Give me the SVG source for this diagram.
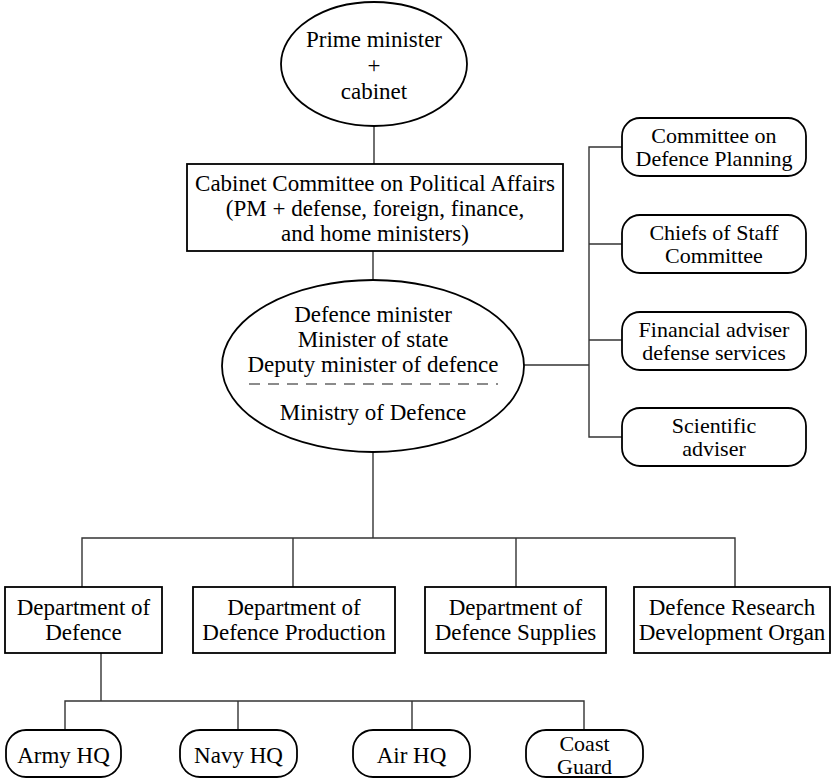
<svg xmlns="http://www.w3.org/2000/svg" width="838" height="780" viewBox="0 0 838 780">
<rect width="838" height="780" fill="#fff"/>
<g id="connectors" fill="none" stroke="#333" stroke-width="1.4">
<line x1="374" y1="127" x2="374" y2="164"/>
<line x1="373" y1="251" x2="373" y2="280"/>
<line x1="524" y1="365" x2="589" y2="365"/>
<polyline points="622,147 589,147 589,437 622,437"/>
<line x1="589" y1="244" x2="622" y2="244"/>
<line x1="589" y1="340" x2="622" y2="340"/>
<line x1="373" y1="452" x2="373" y2="538"/>
<polyline points="82,587 82,538 735,538 735,587"/>
<line x1="293" y1="538" x2="293" y2="587"/>
<line x1="516" y1="538" x2="516" y2="587"/>
<line x1="101" y1="653" x2="101" y2="701"/>
<polyline points="65,730 65,701 584,701 584,730"/>
<line x1="238" y1="701" x2="238" y2="730"/>
<line x1="412" y1="701" x2="412" y2="730"/>
</g>
<g id="pm">
<ellipse fill="#fff" stroke="#000" stroke-width="1.8" cx="374" cy="64" rx="93" ry="62"/>
<text x="374" y="47" font-family="Liberation Serif" font-size="23" text-anchor="middle">Prime minister</text>
<text x="374" y="73" font-family="Liberation Serif" font-size="23" text-anchor="middle">+</text>
<text x="374" y="99" font-family="Liberation Serif" font-size="23" text-anchor="middle">cabinet</text>
</g>
<g id="ccpa">
<rect fill="#fff" stroke="#000" stroke-width="1.8" x="187" y="164" width="376" height="87"/>
<text x="375" y="191" font-family="Liberation Serif" font-size="23" text-anchor="middle">Cabinet Committee on Political Affairs</text>
<text x="375" y="216" font-family="Liberation Serif" font-size="23" text-anchor="middle">(PM + defense, foreign, finance,</text>
<text x="375" y="241" font-family="Liberation Serif" font-size="23" text-anchor="middle">and home ministers)</text>
</g>
<g id="mod">
<ellipse fill="#fff" stroke="#000" stroke-width="1.8" cx="373" cy="366" rx="151" ry="86"/>
<text x="373" y="322" font-family="Liberation Serif" font-size="23" text-anchor="middle">Defence minister</text>
<text x="373" y="347" font-family="Liberation Serif" font-size="23" text-anchor="middle">Minister of state</text>
<text x="373" y="372" font-family="Liberation Serif" font-size="23" text-anchor="middle">Deputy minister of defence</text>
<line x1="249" y1="384" x2="498" y2="384" stroke="#666" stroke-width="1.6" stroke-dasharray="11,8"/>
<text x="373" y="420" font-family="Liberation Serif" font-size="23" text-anchor="middle">Ministry of Defence</text>
</g>
<g id="cdp">
<rect fill="#fff" stroke="#000" stroke-width="1.8" x="622" y="118" width="184" height="58" rx="18"/>
<text x="714" y="143" font-family="Liberation Serif" font-size="22" text-anchor="middle">Committee on</text>
<text x="714" y="166" font-family="Liberation Serif" font-size="22" text-anchor="middle">Defence Planning</text>
</g>
<g id="cosc">
<rect fill="#fff" stroke="#000" stroke-width="1.8" x="622" y="215" width="184" height="58" rx="18"/>
<text x="714" y="240" font-family="Liberation Serif" font-size="22" text-anchor="middle">Chiefs of Staff</text>
<text x="714" y="263" font-family="Liberation Serif" font-size="22" text-anchor="middle">Committee</text>
</g>
<g id="fa">
<rect fill="#fff" stroke="#000" stroke-width="1.8" x="622" y="312" width="184" height="58" rx="18"/>
<text x="714" y="337" font-family="Liberation Serif" font-size="22" text-anchor="middle">Financial adviser</text>
<text x="714" y="360" font-family="Liberation Serif" font-size="22" text-anchor="middle">defense services</text>
</g>
<g id="sa">
<rect fill="#fff" stroke="#000" stroke-width="1.8" x="622" y="408" width="184" height="58" rx="18"/>
<text x="714" y="433" font-family="Liberation Serif" font-size="22" text-anchor="middle">Scientific</text>
<text x="714" y="456" font-family="Liberation Serif" font-size="22" text-anchor="middle">adviser</text>
</g>
<g id="dod">
<rect fill="#fff" stroke="#000" stroke-width="1.8" x="5" y="587" width="157" height="66"/>
<text x="83.5" y="615" font-family="Liberation Serif" font-size="23" text-anchor="middle">Department of</text>
<text x="83.5" y="640" font-family="Liberation Serif" font-size="23" text-anchor="middle">Defence</text>
</g>
<g id="ddp">
<rect fill="#fff" stroke="#000" stroke-width="1.8" x="193" y="587" width="202" height="66"/>
<text x="294" y="615" font-family="Liberation Serif" font-size="23" text-anchor="middle">Department of</text>
<text x="294" y="640" font-family="Liberation Serif" font-size="23" text-anchor="middle">Defence Production</text>
</g>
<g id="dds">
<rect fill="#fff" stroke="#000" stroke-width="1.8" x="425" y="587" width="181" height="66"/>
<text x="515.5" y="615" font-family="Liberation Serif" font-size="23" text-anchor="middle">Department of</text>
<text x="515.5" y="640" font-family="Liberation Serif" font-size="23" text-anchor="middle">Defence Supplies</text>
</g>
<g id="drdo">
<rect fill="#fff" stroke="#000" stroke-width="1.8" x="634" y="587" width="196" height="66"/>
<text x="732" y="615" font-family="Liberation Serif" font-size="23" text-anchor="middle">Defence Research</text>
<text x="732" y="640" font-family="Liberation Serif" font-size="23" text-anchor="middle">Development Organ</text>
</g>
<g id="army">
<rect fill="#fff" stroke="#000" stroke-width="1.8" x="6" y="730" width="115" height="47" rx="20"/>
<text x="63.5" y="763" font-family="Liberation Serif" font-size="23" text-anchor="middle">Army HQ</text>
</g>
<g id="navy">
<rect fill="#fff" stroke="#000" stroke-width="1.8" x="180" y="730" width="117" height="47" rx="20"/>
<text x="238.5" y="763" font-family="Liberation Serif" font-size="23" text-anchor="middle">Navy HQ</text>
</g>
<g id="air">
<rect fill="#fff" stroke="#000" stroke-width="1.8" x="353" y="730" width="117" height="47" rx="20"/>
<text x="411.5" y="763" font-family="Liberation Serif" font-size="23" text-anchor="middle">Air HQ</text>
</g>
<g id="coast">
<rect fill="#fff" stroke="#000" stroke-width="1.8" x="526" y="730" width="117" height="47" rx="20"/>
<text x="584.5" y="751" font-family="Liberation Serif" font-size="22" text-anchor="middle">Coast</text>
<text x="584.5" y="774" font-family="Liberation Serif" font-size="22" text-anchor="middle">Guard</text>
</g>
</svg>
